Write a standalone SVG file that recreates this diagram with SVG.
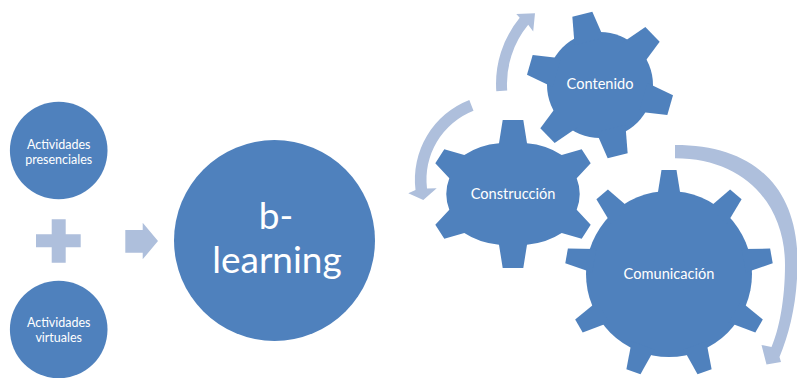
<svg xmlns="http://www.w3.org/2000/svg" xmlns:xlink="http://www.w3.org/1999/xlink" width="797" height="378" viewBox="0 0 797 378">
  <style>
    .node { fill: #4F81BD; }
    .soft { fill: #AEBFDC; }
    .lbl { fill: #FFFFFF; font-family: Lato, "Open Sans", "Liberation Sans", sans-serif; text-anchor: middle; }
    .sm { font-size: 12.5px; }
    .md { font-size: 14.6px; }
    .lg { font-size: 37px; }
  </style>
  <defs>
    <!-- tooth for the six-tooth gear, pointing up from the gear centre -->
    <polygon id="tooth6" points="-15,-45 -10.3,-73 10.3,-73 15,-45"/>
    <!-- tooth for the nine-tooth gear -->
    <polygon id="tooth9" points="-12,-76 -7.5,-104 7.5,-104 12,-76"/>
  </defs>
  <rect width="797" height="378" fill="#FFFFFF"/>

  <!-- left side: two activity circles joined by a plus, arrow into b-learning -->
  <g id="presenciales">
    <circle class="node" cx="58.7" cy="150.5" r="48.8"/>
    <text class="lbl sm" x="58.7" y="148.5">Actividades</text>
    <text class="lbl sm" x="58.7" y="163.5">presenciales</text>
  </g>
  <g id="plus">
    <path class="soft" d="M51.7 219.3 H65.7 V234.3 H80.7 V247.3 H65.7 V262.7 H51.7 V247.3 H36 V234.3 H51.7 Z"/>
  </g>
  <g id="virtuales">
    <circle class="node" cx="58.7" cy="329.5" r="48.8"/>
    <text class="lbl sm" x="58.7" y="326.5">Actividades</text>
    <text class="lbl sm" x="58.7" y="341.5">virtuales</text>
  </g>
  <g id="flecha">
    <path class="soft" d="M125.3 230 H142.7 V222.7 L158 241 L142.7 259.3 V252.7 H125.3 Z"/>
  </g>
  <g id="blearning">
    <circle class="node" cx="274.5" cy="240.5" r="100.5"/>
    <text class="lbl lg" x="276" y="228.5">b-</text>
    <text class="lbl lg" x="277" y="272.7">learning</text>
  </g>

  <!-- circular arrows around the gears -->
  <g id="connectors">
    <path class="soft" d="M496.3 91.3 A104 104 0 0 1 519.7 17.8 L516.3 13.9 L535 13.3 L533.2 31.6 L528.2 24.8 A93 93 0 0 0 507.2 90.5 Z"/>
    <path class="soft" d="M469.3 100 A85.5 85.5 0 0 0 415.5 190 L408.3 193.3 L423.3 200 L436.7 188.3 L427 188.6 A74 74 0 0 1 473.5 110.7 Z"/>
    <path class="soft" d="M675 145 C754 145 797.5 187 797.5 262 C797.5 300 790 332 779.5 357 L781 362 L766.5 364.5 L761.5 345 L771.5 347 C779 330 785 300 785 265 C785 205 745 158.3 675 158.3 Z"/>
  </g>

  <!-- gears -->
  <g id="contenido">
    <g class="node" transform="translate(600,85)">
      <circle r="53"/>
      <use xlink:href="#tooth6" transform="rotate(-14)"/>
      <use xlink:href="#tooth6" transform="rotate(46)"/>
      <use xlink:href="#tooth6" transform="rotate(106)"/>
      <use xlink:href="#tooth6" transform="rotate(166)"/>
      <use xlink:href="#tooth6" transform="rotate(226)"/>
      <use xlink:href="#tooth6" transform="rotate(286)"/>
    </g>
    <text class="lbl md" x="600" y="88.5">Contenido</text>
  </g>
  <g id="construccion">
    <path class="node" d="M499 143.3 L502.7 120 L523.3 120 L527 143.3 A66 53 0 0 1 561.7 155 L581.7 149.3 L590.7 163.3 L576.7 178.3 A66 53 0 0 1 576.7 209.7 L590.7 224.7 L581.7 238.7 L561.7 233 A66 53 0 0 1 527 244.7 L523.3 268 L502.7 268 L499 244.7 A66 53 0 0 1 464.3 233 L444.3 238.7 L435.3 224.7 L449.3 209.7 A66 53 0 0 1 449.3 178.3 L435.3 163.3 L444.3 149.3 L464.3 155 A66 53 0 0 1 499 143.3 Z"/>
    <text class="lbl md" x="513" y="199">Construcción</text>
  </g>
  <g id="comunicacion">
    <g class="node" transform="translate(669,274)">
      <circle r="83"/>
      <use xlink:href="#tooth9" transform="rotate(0)"/>
      <use xlink:href="#tooth9" transform="rotate(40)"/>
      <use xlink:href="#tooth9" transform="rotate(80)"/>
      <use xlink:href="#tooth9" transform="rotate(120)"/>
      <use xlink:href="#tooth9" transform="rotate(160)"/>
      <use xlink:href="#tooth9" transform="rotate(200)"/>
      <use xlink:href="#tooth9" transform="rotate(240)"/>
      <use xlink:href="#tooth9" transform="rotate(280)"/>
      <use xlink:href="#tooth9" transform="rotate(320)"/>
    </g>
    <text class="lbl md" x="669" y="278.5">Comunicación</text>
  </g>
</svg>
